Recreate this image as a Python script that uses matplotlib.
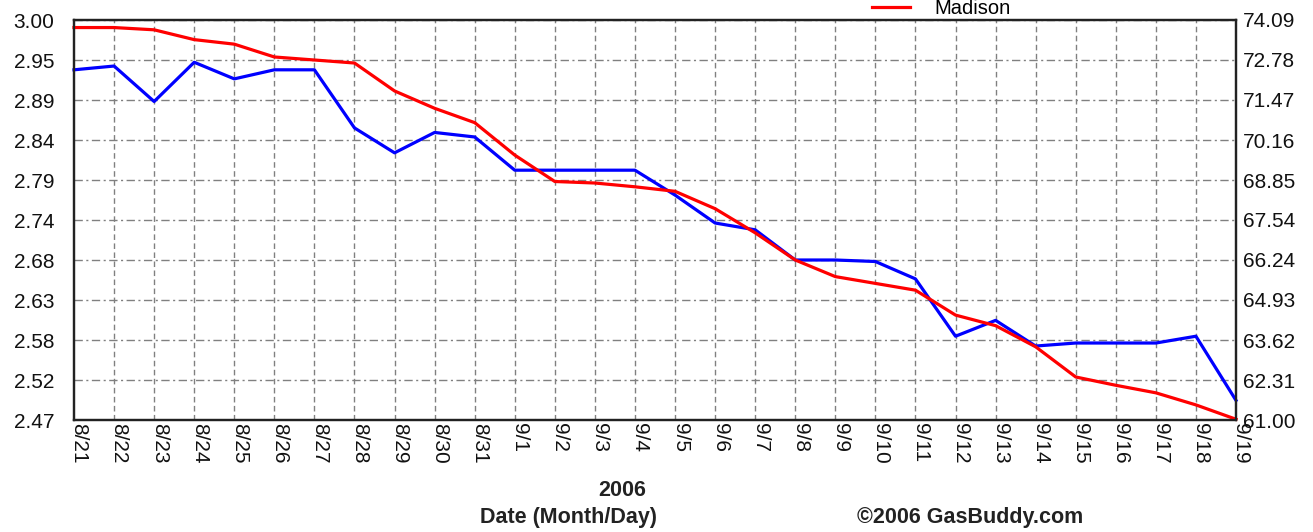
import numpy as np
import matplotlib
matplotlib.use('Agg')
import matplotlib.pyplot as plt
import matplotlib.transforms as mtransforms

plt.rcParams['font.family'] = ['Liberation Sans', 'DejaVu Sans']

# dati
dates = ['8/21', '8/22', '8/23', '8/24', '8/25', '8/26', '8/27', '8/28', '8/29', '8/30',
         '8/31', '9/1', '9/2', '9/3', '9/4', '9/5', '9/6', '9/7', '9/8', '9/9',
         '9/10', '9/11', '9/12', '9/13', '9/14', '9/15', '9/16', '9/17', '9/18', '9/19']
blue_vals = [2.934, 2.939, 2.892, 2.944, 2.922, 2.934, 2.934, 2.857, 2.824, 2.851,
             2.845, 2.801, 2.801, 2.801, 2.801, 2.768, 2.731, 2.722, 2.682, 2.682,
             2.680, 2.657, 2.581, 2.602, 2.568, 2.572, 2.572, 2.572, 2.581, 2.496]
madison = [2.990, 2.990, 2.987, 2.974, 2.968, 2.951, 2.947, 2.943, 2.906, 2.883,
           2.864, 2.821, 2.786, 2.784, 2.779, 2.773, 2.750, 2.718, 2.682, 2.660,
           2.651, 2.642, 2.609, 2.595, 2.567, 2.527, 2.516, 2.506, 2.490, 2.471]
left_labels = ['2.47', '2.52', '2.58', '2.63', '2.68', '2.74', '2.79', '2.84', '2.89', '2.95', '3.00']
right_labels = ['61.00', '62.31', '63.62', '64.93', '66.24', '67.54', '68.85', '70.16', '71.47', '72.78', '74.09']

W, H = 1313, 532
fig = plt.figure(figsize=(W / 100, H / 100), dpi=100)
ax = fig.add_axes([74 / W, 1 - 420 / H, (1236 - 74) / W, 400 / H])

x = np.arange(len(dates))
ax.plot(x, blue_vals, color='#0000ff', lw=2.3, zorder=3, clip_on=False)
red_line, = ax.plot(x, madison, color='#ff0000', lw=2.3, zorder=4, clip_on=False)

ax.set_xlim(0, len(dates) - 1)
ax.set_ylim(2.47, 3.00)
ax.set_yticks(np.linspace(2.47, 3.00, len(left_labels)))
ax.set_yticklabels(left_labels)
ax.set_xticks(x)
ax.set_xticklabels(dates, rotation=270, ha='center', va='top')
ax.tick_params(axis='y', length=0, pad=14, labelsize=15, colors='#111111')
ax.tick_params(axis='x', length=0, pad=2, labelsize=15, colors='#111111')

# etichette date leggermente spostate a destra
offset = mtransforms.ScaledTranslation(5 / 100, 0, fig.dpi_scale_trans)
for lab in ax.get_xticklabels():
    lab.set_transform(lab.get_transform() + offset)

# griglia: orizzontali tratto-punto, verticali tratteggiate
for yv in np.linspace(2.47, 3.00, len(left_labels))[1:]:
    ax.axhline(yv, color='#808080', lw=1, dashes=(6, 2.5, 1.5, 2.5), zorder=1)
for xv in x[1:-1]:
    ax.axvline(xv, color='#808080', lw=1, dashes=(4, 2.5), zorder=1)

for s in ax.spines.values():
    s.set_linewidth(1.6)
    s.set_color('#222222')

ax2 = ax.twinx()
ax2.set_ylim(61.00, 74.09)
ax2.set_yticks(np.linspace(61.00, 74.09, len(right_labels)))
ax2.set_yticklabels(right_labels)
ax2.tick_params(axis='y', length=0, pad=5, labelsize=15, colors='#111111')
for s in ax2.spines.values():
    s.set_linewidth(1.6)
    s.set_color('#222222')

# legenda (in alto a destra)
fig.legend(handles=[red_line], labels=['Madison'], loc='center left',
           bbox_to_anchor=(872 / W, 1 - 9 / H), frameon=False, fontsize=14.5,
           handlelength=1.9, handletextpad=1.2, borderpad=0, borderaxespad=0)

fig.text(622 / W, 1 - 490 / H, '2006', ha='center', va='center',
         fontsize=15.5, fontweight='bold', color='#222222')
fig.text(568 / W, 1 - 518 / H, 'Date (Month/Day)', ha='center', va='center',
         fontsize=15.5, fontweight='bold', color='#222222')
fig.text(970 / W, 1 - 517 / H, '\u00a92006 GasBuddy.com', ha='center', va='center',
         fontsize=15.5, fontweight='bold', color='#222222')

fig.savefig('out.png', dpi=100)
